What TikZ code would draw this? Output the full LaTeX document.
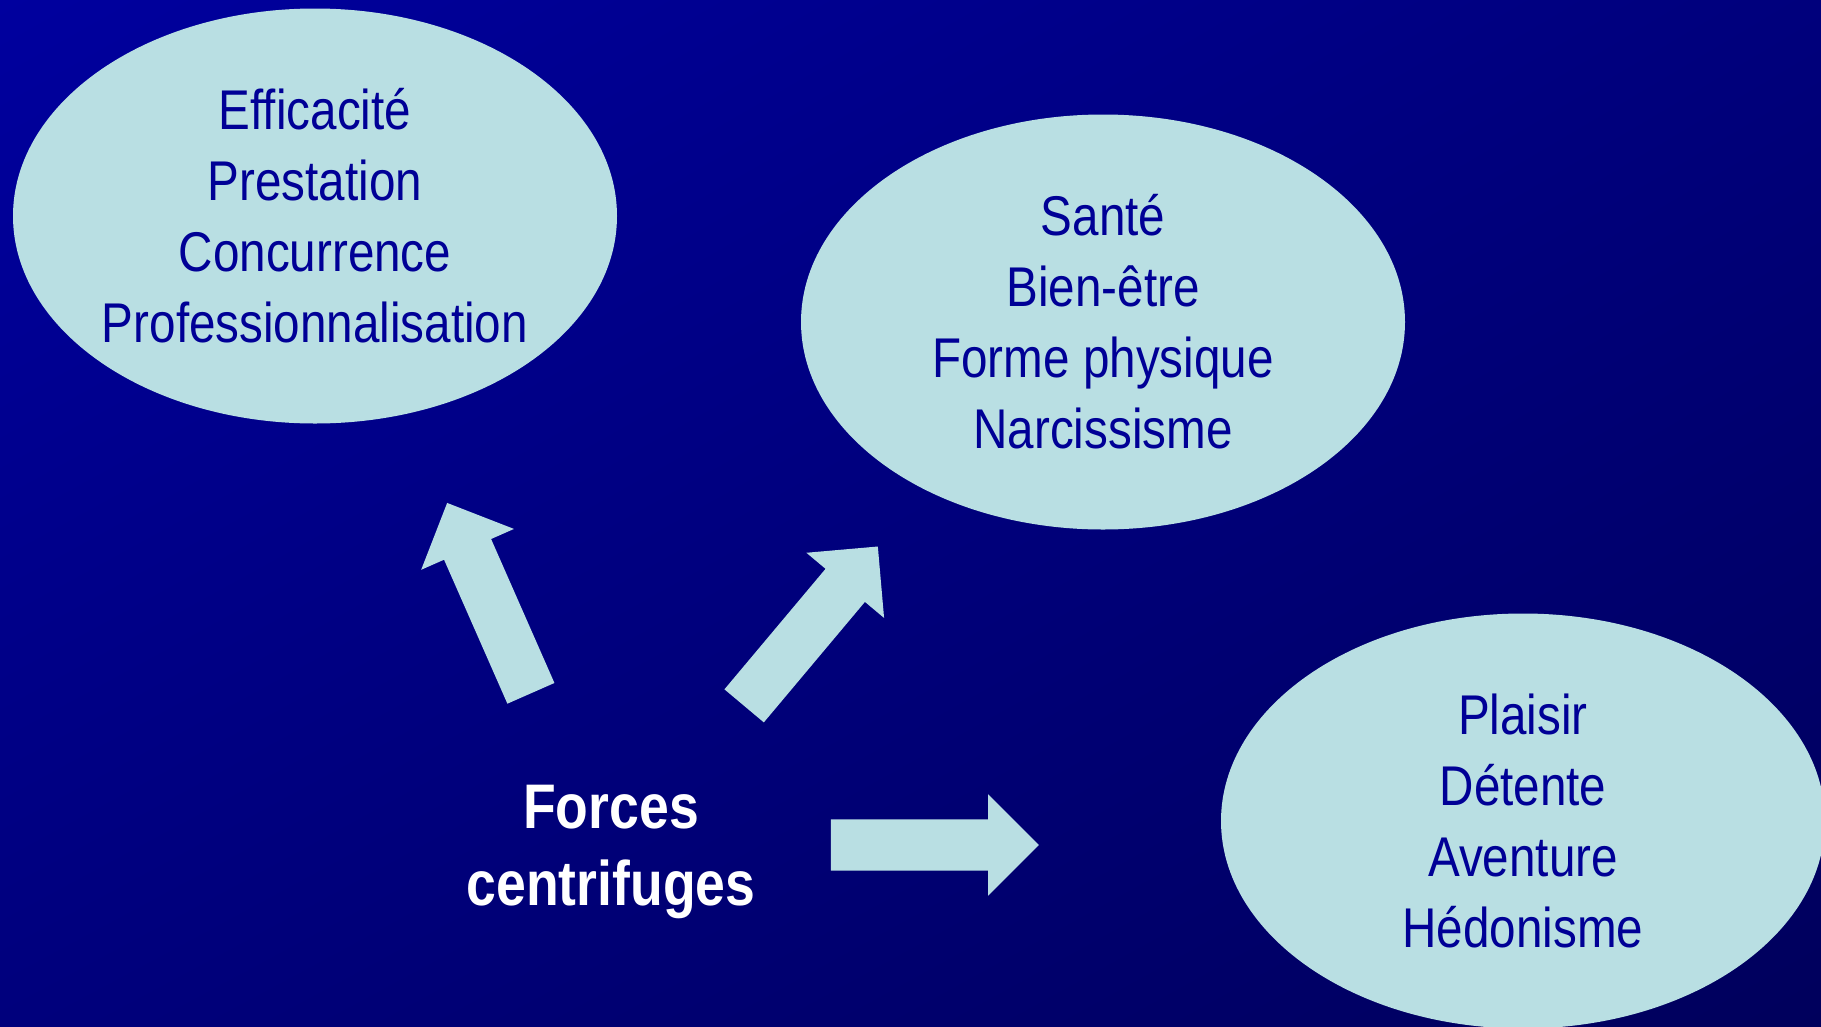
\documentclass[tikz,border=0pt]{standalone}
\usepackage{fontspec}
\setmainfont{Liberation Sans}[FakeStretch=0.85]
\usepackage{tikz}
\usetikzlibrary{positioning}
\usetikzlibrary{calc}
\usetikzlibrary{shadings}
\usetikzlibrary{shapes.geometric}
\usetikzlibrary{shapes.arrows}
\definecolor{fondhaut}{RGB}{0,0,158}
\definecolor{fondmilieu}{RGB}{0,0,124}
\definecolor{fondbas}{RGB}{0,0,92}
\definecolor{cyanclair}{RGB}{185,223,227}
\definecolor{texte}{RGB}{0,0,150}
\tikzstyle{fleche}=[single arrow,fill=cyanclair,draw=none,inner xsep=0pt,inner ysep=25.5pt,minimum height=208pt,single arrow head extend=25pt,anchor=tail]

\begin{document}
\begin{tikzpicture}[x=1pt,y=1pt,on grid]
    % fond en dégradé
    \shade[upper left=fondhaut,upper right=fondmilieu,lower left=fondmilieu,lower right=fondbas] (0,0) rectangle (1821,-1026);
    \useasboundingbox (0,0) rectangle (1821,-1026);

    % les trois bulles ont la même taille
    \tikzstyle{bulle}=[ellipse,fill=cyanclair,minimum width=604pt,minimum height=415pt,inner sep=0pt,align=center,text=texte,font=\fontsize{56}{71}\selectfont]

    \node[font=\bfseries\fontsize{63}{77}\selectfont,text=white,align=center] (forces) at (611,-852) {Forces\\centrifuges};
    \node[bulle] (efficacite) [above left=636pt and 296pt of forces] {Efficacité\\Prestation\\Concurrence\\Professionnalisation};
    \node[bulle] (sante) [above right=530pt and 492pt of forces] {Santé\\Bien-être\\Forme physique\\Narcissisme};
    \node[bulle] (plaisir) [above right=31pt and 912pt of forces] {Plaisir\\Détente\\Aventure\\Hédonisme};

    \node[fleche,rotate=113.75] (versefficacite) at ($(forces)+(-80,158.5)$) {};
    \node[fleche,rotate=50] (verssante) at ($(forces)+(133,146)$) {};
    \node[fleche] (versplaisir) at ($(forces)+(219.6,7)$) {};
\end{tikzpicture}
\end{document}
